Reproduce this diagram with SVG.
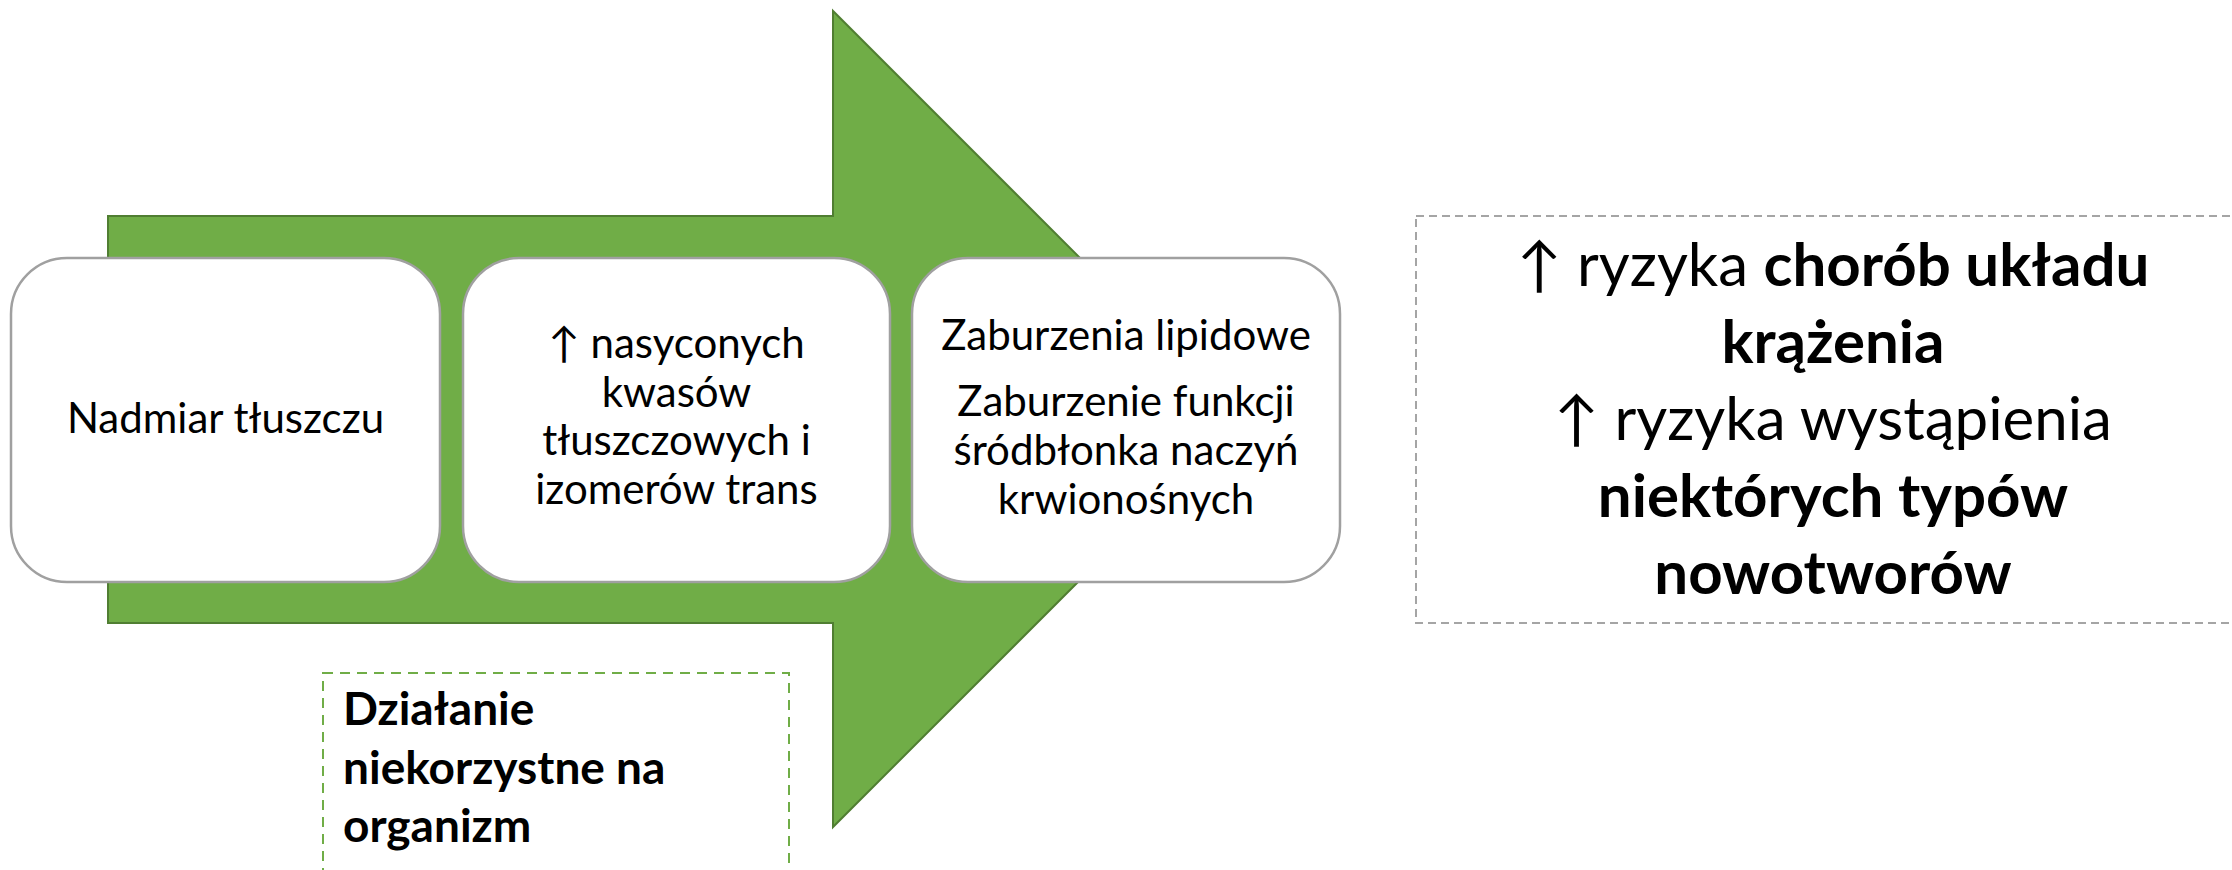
<svg xmlns="http://www.w3.org/2000/svg" width="2232" height="870" viewBox="0 0 2232 870">
<style>
.box{fill:#FFFFFF;stroke:#A0A0A0;stroke-width:2.5}
.t{font-family:Lato,"Open Sans","Liberation Sans",sans-serif;fill:#000000;text-anchor:middle}
.s{font-size:42px}
.r{font-size:60px}
.b{font-weight:bold}
.g{font-family:Lato,"Open Sans","Liberation Sans",sans-serif;font-size:46px;font-weight:bold;fill:#000000}
</style>
<rect width="2232" height="870" fill="#FFFFFF"/>
<g id="connectors">
<polygon points="108,216 833,216 833,11 1241,419 833,827 833,623 108,623" fill="#70AD47" stroke="#507E32" stroke-width="2"/>
</g>
<g id="node1">
<rect class="box" x="11" y="258" width="429" height="324" rx="56" ry="56"/>
<text class="t s" x="225.5" y="433">Nadmiar tłuszczu</text>
</g>
<g id="node2">
<rect class="box" x="463" y="258" width="427" height="324" rx="56" ry="56"/>
<text class="t s" x="676.5" y="358">↑ nasyconych</text>
<text class="t s" x="676.5" y="407">kwasów</text>
<text class="t s" x="676.5" y="455">tłuszczowych i</text>
<text class="t s" x="676.5" y="504">izomerów trans</text>
</g>
<g id="node3">
<rect class="box" x="912" y="258" width="428" height="324" rx="56" ry="56"/>
<text class="t s" x="1126" y="350">Zaburzenia lipidowe</text>
<text class="t s" x="1126" y="416">Zaburzenie funkcji</text>
<text class="t s" x="1126" y="465">śródbłonka naczyń</text>
<text class="t s" x="1126" y="514">krwionośnych</text>
</g>
<g id="effect">
<rect x="1416" y="216" width="840" height="407" fill="none" stroke="#A5A5A5" stroke-width="2" stroke-dasharray="8,5"/>
<text class="t r" x="1833" y="286">↑ ryzyka <tspan class="b">chorób układu</tspan></text>
<text class="t r b" x="1833" y="363">krążenia</text>
<text class="t r" x="1833" y="440">↑ ryzyka wystąpienia</text>
<text class="t r b" x="1833" y="517">niektórych typów</text>
<text class="t r b" x="1833" y="594">nowotworów</text>
</g>
<g id="note">
<rect x="323" y="673" width="466" height="240" fill="none" stroke="#70AD47" stroke-width="2" stroke-dasharray="10,7"/>
<text class="g" x="343" y="725">Działanie</text>
<text class="g" x="343" y="784">niekorzystne na</text>
<text class="g" x="343" y="842">organizm</text>
</g>
</svg>
